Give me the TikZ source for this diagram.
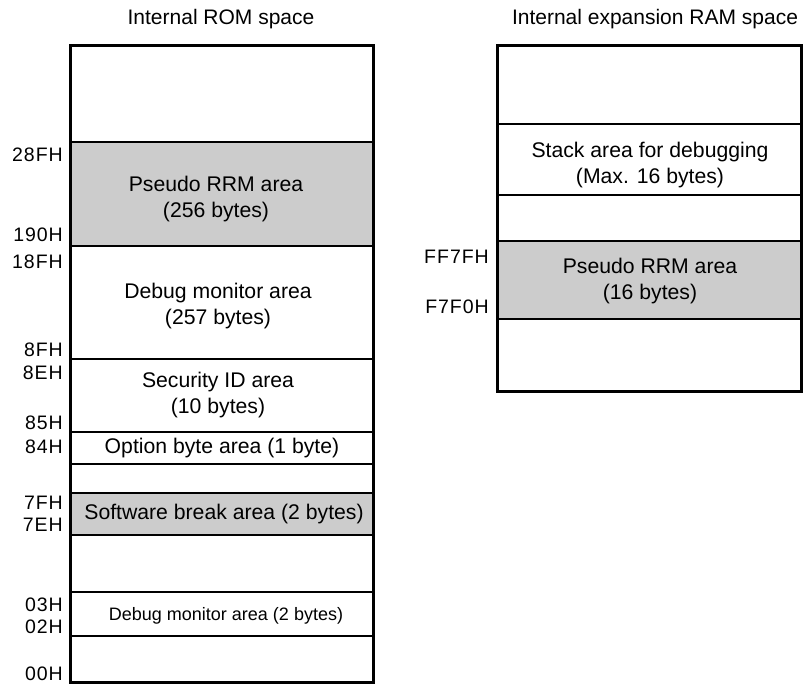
\documentclass[tikz,border=0pt]{standalone}
\usepackage{fontspec}
\setmainfont{Liberation Sans}
\newfontfamily\addrfont[LetterSpace=5]{Liberation Sans}
\begin{document}
\begin{tikzpicture}[x=1pt,y=-1pt,
  region/.style={draw=black,line width=1.2pt,inner sep=0pt,minimum width=302pt},
  rregion/.style={draw=black,line width=1.2pt,inner sep=0pt,minimum width=303pt},
  shaded/.style={fill=gray!40},
  outer/.style={draw=black,line width=2.6pt},
  txt/.style={font=\fontsize{21.2}{26}\selectfont,align=center,inner sep=0pt},
  ttl/.style={font=\fontsize{21}{26}\selectfont,inner sep=0pt},
  smalltxt/.style={font=\fontsize{18}{22}\selectfont,align=center,inner sep=0pt},
  addr/.style={font=\addrfont\fontsize{19.5}{22}\selectfont,anchor=east,inner sep=0pt}]
\useasboundingbox (0,0) rectangle (804,684);
% titles
\node[ttl] (tl) at (221,19) {Internal ROM space};
\node[ttl] (tr) at (655,19) {Internal expansion RAM space};
% left regions
\node[region,minimum height=96pt] (R1) at (222,94) {};
\node[region,shaded,minimum height=104pt] (R2) at (222,194) {};
\node[region,minimum height=113pt] (R3) at (222,302.5) {};
\node[region,minimum height=73pt] (R4) at (222,395.5) {};
\node[region,minimum height=32pt] (R5) at (222,448) {};
\node[region,minimum height=29pt] (R6) at (222,478.5) {};
\node[region,shaded,minimum height=42pt] (R7) at (222,514) {};
\node[region,minimum height=57pt] (R8) at (222,563.5) {};
\node[region,minimum height=44pt] (R9) at (222,614) {};
\node[region,minimum height=46pt] (R10) at (222,659) {};
\draw[outer] (R1.north west) rectangle (R10.south east);
% left texts
\node[txt] (t2) at (216,199) {Pseudo RRM area\\(256 bytes)};
\node[txt] (t3) at (218,306) {Debug monitor area\\(257 bytes)};
\node[txt] (t4) at (218,395) {Security ID area\\(10 bytes)};
\node[txt] (t5) at (222,448) {Option byte area (1 byte)};
\node[txt] (t7) at (224,514) {Software break area (2 bytes)};
\node[smalltxt] (t9) at (226,616) {Debug monitor area (2 bytes)};
% left addresses
\node[addr] (a1) at (63,155) {28FH};
\node[addr] (a2) at (63,235) {190H};
\node[addr] (a3) at (63,262) {18FH};
\node[addr] (a4) at (63,350) {8FH};
\node[addr] (a5) at (63,373) {8EH};
\node[addr] (a6) at (63,423) {85H};
\node[addr] (a7) at (63,447) {84H};
\node[addr] (a8) at (63,503) {7FH};
\node[addr] (a9) at (63,525) {7EH};
\node[addr] (a10) at (63,605) {03H};
\node[addr] (a11) at (63,627) {02H};
\node[addr] (a12) at (63,674) {00H};
% right regions
\node[rregion,minimum height=78pt] (Q1) at (649.5,85) {};
\node[rregion,minimum height=71pt] (Q2) at (649.5,159.5) {};
\node[rregion,minimum height=46pt] (Q3) at (649.5,218) {};
\node[rregion,shaded,minimum height=78pt] (Q4) at (649.5,280) {};
\node[rregion,minimum height=72pt] (Q5) at (649.5,355) {};
\draw[outer] (Q1.north west) rectangle (Q5.south east);
\node[txt] (s2) at (650,165) {Stack area for debugging\\(Max. 16 bytes)};
\node[txt] (s4) at (650,281) {Pseudo RRM area\\(16 bytes)};
\node[addr] (b1) at (489,257) {FF7FH};
\node[addr] (b2) at (489,307) {F7F0H};
\end{tikzpicture}
\end{document}
